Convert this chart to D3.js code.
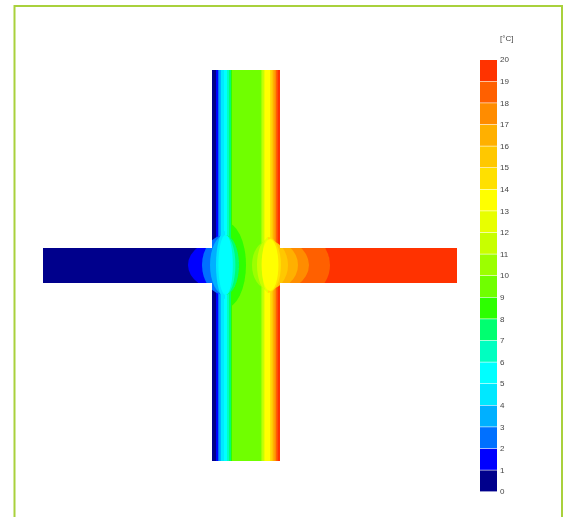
<!DOCTYPE html>
<html>
<head>
<meta charset="utf-8">
<script src="https://cdn.jsdelivr.net/npm/d3@7"></script>
<style>
  html, body { margin: 0; padding: 0; background: #fff; }
  text { font-family: "Liberation Sans", Arial, sans-serif; font-size: 8px; fill: #444; }
</style>
</head>
<body>
<div id="chart"></div>
<script>
// temperature classes, 0-1 up to 19-20
var tempTicks = [0, 1, 2, 3, 4, 5, 6, 7, 8, 9, 10, 11, 12, 13, 14, 15, 16, 17, 18, 19, 20];
var bandColors = ['#00008c', '#0000ff', '#0070ff', '#00b0ff', '#00e8ff', '#00ffff', '#00ffc0', '#00ff70', '#2dff00', '#70ff00',
  '#9cff00', '#c8ff00', '#e8ff00', '#ffff00', '#ffe000', '#ffc800', '#ffb000', '#ff8c00', '#ff6000', '#ff3300'];

// isotherm positions through the wall (cm from left of section), one per band edge
var wallTemps = [0, 1, 2, 3, 4, 5, 6, 7, 8, 9, 10, 11, 12, 13, 14, 15, 16, 17, 18, 19];
var wallEdges = [84.5, 86.5, 87.5, 88.2, 89, 90.5, 92, 93, 94, 94.5, 109, 109.7, 110.5, 111, 113.5, 114.2, 115, 115.7, 116.5, 117.2, 118.5];

// isotherm lobes at the junction (band, half axes in cm)
var coldCx = 91, warmCx = 112.5, midY = 97.5;
var coldLeftTemps = [1, 2, 3, 4];
var coldLeftRx = [18.5, 11.5, 7.5, 4.5];
var coldLeftRy = [13, 15, 15, 17];
var coldEdgeTemps = [8];
var coldEdgeRx = [10.5];
var coldEdgeRy = [21.5];
var coldRightTemps = [7, 6];
var coldRightRx = [7, 5.2];
var coldRightRy = [15, 15];
var warmLeftTemps = [10, 11, 12];
var warmLeftRx = [8, 5.5, 3];
var warmLeftRy = [12, 13, 14];
var warmSlabTemps = [18, 17, 16];
var warmSlabRx = [31, 20.5, 15];
var warmSlabRy = [22, 14.5, 13];
var warmRightTemps = [15, 14];
var warmRightRx = [10, 6.5];
var warmRightRy = [12.5, 14];
var coreTemps = [5, 13];
var coreCx = [91.3, 113.5];
var coreRx = [3.6, 4.2];
var coreRy = [15, 13];

var width = 571, height = 517;
var svg = d3.select('#chart').append('svg').attr('width', width).attr('height', height);

var x = d3.scaleLinear().domain([0, 207]).range([43, 457]);
var y = d3.scaleLinear().domain([0, 195.5]).range([70, 461]);
var legendY = d3.scaleLinear().domain([0, 20]).range([492, 60]);
var len = function (v) { return x(v) - x(0); };

var defs = svg.append('defs');
defs.append('filter').attr('id', 'soft').append('feGaussianBlur').attr('stdDeviation', 0.7);
defs.append('filter').attr('id', 'softText').append('feGaussianBlur').attr('stdDeviation', 0.25);

// cross shape of wall and slab
var cross = defs.append('clipPath').attr('id', 'cross');
cross.append('rect').attr('x', x(84.5)).attr('y', y(0)).attr('width', len(34)).attr('height', y(195.5) - y(0));
cross.append('rect').attr('x', x(0)).attr('y', y(89)).attr('width', len(207)).attr('height', y(106.5) - y(89));

function halfClip(id, from, to) {
  defs.append('clipPath').attr('id', id).append('rect')
    .attr('x', x(from)).attr('y', 0).attr('width', len(to - from)).attr('height', height);
}
halfClip('coldLeft', 0, coldCx);
halfClip('coldEdge', 94.5, 110);
halfClip('coldRight', coldCx, 110);
halfClip('warmLeft', 100, warmCx);
halfClip('warmRight', warmCx, 207);
halfClip('warmSlab', 118.5, 207);

// frame
svg.append('rect').attr('x', 14.5).attr('y', 6).attr('width', 547.5).attr('height', 530)
  .attr('fill', 'none').attr('stroke', '#a9d13c').attr('stroke-width', 2);

var field = svg.append('g').attr('clip-path', 'url(#cross)').append('g').attr('filter', 'url(#soft)');

// slab: cold side and warm side
field.append('rect').attr('x', x(0)).attr('y', y(89)).attr('width', len(100)).attr('height', y(106.5) - y(89)).attr('fill', bandColors[0]);
field.append('rect').attr('x', x(100)).attr('y', y(89)).attr('width', len(107)).attr('height', y(106.5) - y(89)).attr('fill', bandColors[19]);

// wall bands
field.selectAll('rect.wall').data(wallTemps).enter().append('rect')
  .attr('class', 'wall')
  .attr('x', function (d, i) { return x(wallEdges[i]); })
  .attr('y', y(0))
  .attr('width', function (d, i) { return len(wallEdges[i + 1] - wallEdges[i]) + 0.5; })
  .attr('height', y(195.5) - y(0))
  .attr('fill', function (d) { return bandColors[d]; });

function lobes(temps, cx, rx, ry, clipId) {
  field.append('g').attr('clip-path', 'url(#' + clipId + ')')
    .selectAll('ellipse').data(temps).enter().append('ellipse')
    .attr('cx', x(cx))
    .attr('cy', y(midY))
    .attr('rx', function (d, i) { return len(rx[i]); })
    .attr('ry', function (d, i) { return len(ry[i]); })
    .attr('fill', function (d) { return bandColors[d]; });
}

lobes(coldLeftTemps, coldCx, coldLeftRx, coldLeftRy, 'coldLeft');
lobes(coldEdgeTemps, coldCx, coldEdgeRx, coldEdgeRy, 'coldEdge');
lobes(coldRightTemps, coldCx, coldRightRx, coldRightRy, 'coldRight');
lobes(warmSlabTemps, warmCx, warmSlabRx, warmSlabRy, 'warmSlab');
lobes(warmLeftTemps, warmCx, warmLeftRx, warmLeftRy, 'warmLeft');
lobes(warmRightTemps, warmCx, warmRightRx, warmRightRy, 'warmRight');

// warmest and coldest cores sit on top of both halves
field.selectAll('ellipse.core').data(coreTemps).enter().append('ellipse')
  .attr('class', 'core')
  .attr('cx', function (d, i) { return x(coreCx[i]); })
  .attr('cy', y(midY))
  .attr('rx', function (d, i) { return len(coreRx[i]); })
  .attr('ry', function (d, i) { return len(coreRy[i]); })
  .attr('fill', function (d) { return bandColors[d]; });

// legend
var legend = svg.append('g');
legend.selectAll('rect').data(bandColors).enter().append('rect')
  .attr('x', 480)
  .attr('y', function (d, i) { return legendY(i + 1); })
  .attr('width', 17)
  .attr('height', function (d, i) { return legendY(i) - legendY(i + 1) - 0.6; })
  .attr('fill', function (d) { return d; });

var labels = svg.append('g').attr('filter', 'url(#softText)');
labels.selectAll('text.tick').data(tempTicks).enter().append('text')
  .attr('class', 'tick')
  .attr('x', 500)
  .attr('y', function (d) { return legendY(d); })
  .attr('dy', '0.3em')
  .text(function (d) { return d; });

labels.append('text').attr('x', 500).attr('y', 41).text('[°C]');
</script>
</body>
</html>
